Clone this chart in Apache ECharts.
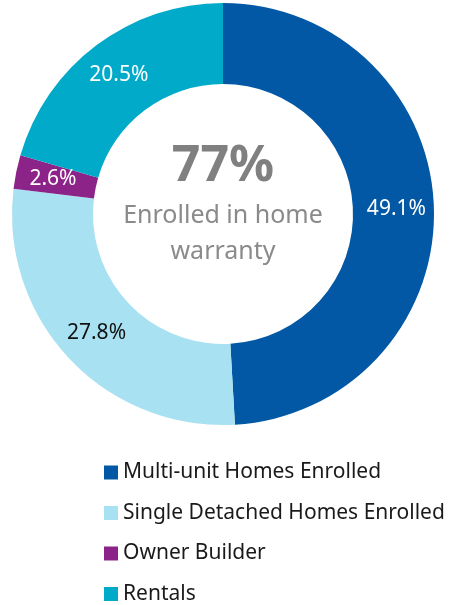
<!DOCTYPE html>
<html><head><meta charset="utf-8">
<script src="https://cdn.jsdelivr.net/npm/echarts@6/dist/echarts.min.js"></script>
<style>html,body{margin:0;padding:0;background:#fff}#c{width:457px;height:605px}</style>
</head><body><div id="c"></div>
<script>
const categories = ['Multi-unit Homes Enrolled','Single Detached Homes Enrolled','Owner Builder','Rentals'];
const values = [49.1, 27.8, 2.6, 20.5];
const colors = ['#0258A5','#A8E1F1','#8C2388','#00AAC8'];
const labelColors = ['#ffffff','#111111','#ffffff','#ffffff'];
const centerTitle = '77%';
const centerSub = ['Enrolled in home','warranty'];

const chart = echarts.init(document.getElementById('c'), null, {renderer:'canvas'});
const FONT = 'Noto Sans';
chart.setOption({
  animation:false,
  legend:{
    orient:'vertical', left:99, top:457, height:160,
    itemWidth:14, itemHeight:14, itemGap:19.5, icon:'rect',
    textStyle:{fontFamily:FONT, fontSize:21, color:'#1a1a1a'},
    data:categories
  },
  graphic:[
    {type:'text', x:223, y:167, style:{text:centerTitle, font:'bold 50px '+FONT, fill:'#808080', textAlign:'center', textVerticalAlign:'middle'}},
    {type:'text', x:223, y:216, style:{text:centerSub[0], font:'25px '+FONT, fill:'#8a8a8a', textAlign:'center', textVerticalAlign:'middle'}},
    {type:'text', x:223, y:252, style:{text:centerSub[1], font:'25px '+FONT, fill:'#8a8a8a', textAlign:'center', textVerticalAlign:'middle'}}
  ],
  series:[{
    type:'pie', center:[223,214], radius:[130,211], startAngle:90, clockwise:true,
    label:{show:true, position:'inside', fontFamily:FONT, fontSize:21,
      formatter:p=>p.value.toFixed(1)+'%'},
    labelLine:{show:false},
    emphasis:{disabled:true},
    data:categories.map((n,i)=>({name:n, value:values[i], itemStyle:{color:colors[i]}, label:{color:labelColors[i]}}))
  }]
});
</script></body></html>
